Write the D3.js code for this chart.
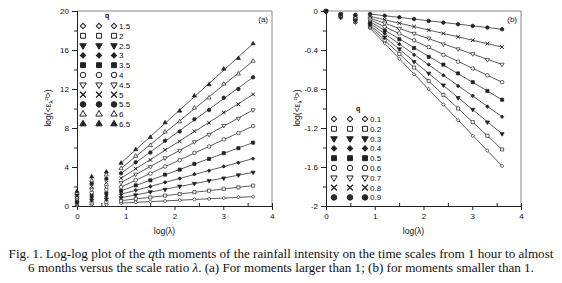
<!DOCTYPE html>
<html>
<head>
<meta charset="utf-8">
<script src="https://cdn.jsdelivr.net/npm/d3@7"></script>
<style>
  body { margin: 0; background: #fff; }
  svg { display: block; }
  text { font-family: "Liberation Sans", Arial, sans-serif; fill: #111; }
  .caption { font-family: "Liberation Serif", "Times New Roman", serif; font-size: 13.1px; }
</style>
</head>
<body>
<svg></svg>
<script>
const w = 562
const h = 283

const svg = d3.select('svg')
  .attr('width', w)
  .attr('height', h);

// log(lambda) for lambda = 1, 2, 4 ... 4096 hours
const logLambda = [0, 0.301, 0.602, 0.903, 1.204, 1.505, 1.806, 2.107, 2.408, 2.709, 3.010, 3.311, 3.612];

// (a) moments larger than 1
const qHigh = ['1.5', '2', '2.5', '3', '3.5', '4', '4.5', '5', '5.5', '6', '6.5'];
const momentsHigh = [
  [0.05, 0.15, 0.15, 0.30, 0.38, 0.44, 0.52, 0.60, 0.67, 0.73, 0.81, 0.90, 0.96],
  [0.15, 0.35, 0.40, 0.55, 0.74, 0.88, 1.07, 1.22, 1.42, 1.57, 1.76, 1.91, 2.09],
  [0.30, 0.60, 0.70, 0.85, 1.14, 1.45, 1.70, 2.02, 2.30, 2.60, 2.85, 3.18, 3.45],
  [0.45, 0.85, 1.00, 1.20, 1.62, 2.00, 2.44, 2.82, 3.25, 3.62, 4.06, 4.44, 4.86],
  [0.60, 1.10, 1.30, 1.55, 2.12, 2.63, 3.22, 3.73, 4.32, 4.83, 5.42, 5.93, 6.50],
  [0.75, 1.40, 1.70, 1.95, 2.66, 3.32, 4.05, 4.70, 5.45, 6.10, 6.84, 7.48, 8.20],
  [0.90, 1.70, 2.00, 2.40, 3.25, 4.03, 4.92, 5.68, 6.58, 7.33, 8.25, 8.98, 9.85],
  [1.00, 2.00, 2.40, 2.85, 3.84, 4.72, 5.76, 6.62, 7.68, 8.52, 9.60, 10.42, 11.45],
  [1.20, 2.30, 2.80, 3.35, 4.48, 5.48, 6.70, 7.65, 8.90, 9.84, 11.10, 12.00, 13.20],
  [1.35, 2.60, 3.20, 3.85, 5.12, 6.22, 7.60, 8.66, 10.06, 11.10, 12.52, 13.55, 14.87],
  [1.50, 3.00, 3.50, 4.40, 5.80, 7.05, 8.55, 9.75, 11.30, 12.45, 14.05, 15.15, 16.65]
];
// fitted lines, value at log(lambda) = 0.903 and 3.612
const fitHigh = [
  [0.30, 0.96], [0.55, 2.09], [0.85, 3.45], [1.20, 4.86], [1.55, 6.50], [1.95, 8.20],
  [2.40, 9.85], [2.85, 11.45], [3.35, 13.20], [3.85, 14.87], [4.40, 16.65]
];

// (b) moments smaller than 1
const qLow = ['0.1', '0.2', '0.3', '0.4', '0.5', '0.6', '0.7', '0.8', '0.9'];
const momentsLow = [
  [-0.005, -0.07, -0.12, -0.176, -0.33, -0.49, -0.65, -0.80, -0.96, -1.12, -1.28, -1.43, -1.59],
  [-0.005, -0.065, -0.11, -0.16, -0.30, -0.44, -0.58, -0.72, -0.86, -1.00, -1.14, -1.28, -1.42],
  [-0.005, -0.06, -0.10, -0.144, -0.27, -0.39, -0.52, -0.64, -0.76, -0.89, -1.01, -1.14, -1.26],
  [0, -0.055, -0.09, -0.126, -0.23, -0.34, -0.45, -0.55, -0.66, -0.77, -0.87, -0.98, -1.085],
  [0, -0.05, -0.08, -0.109, -0.20, -0.29, -0.38, -0.47, -0.55, -0.64, -0.73, -0.82, -0.91],
  [0, -0.045, -0.07, -0.09, -0.16, -0.23, -0.30, -0.37, -0.45, -0.52, -0.59, -0.66, -0.73],
  [0, -0.04, -0.06, -0.073, -0.126, -0.18, -0.23, -0.28, -0.34, -0.39, -0.44, -0.50, -0.548],
  [0, -0.035, -0.05, -0.055, -0.09, -0.125, -0.16, -0.195, -0.23, -0.265, -0.30, -0.335, -0.37],
  [0, -0.03, -0.04, -0.031, -0.048, -0.065, -0.082, -0.102, -0.119, -0.136, -0.153, -0.17, -0.187]
];
const fitLow = [
  [-0.176, -1.59], [-0.16, -1.42], [-0.144, -1.26], [-0.126, -1.085], [-0.109, -0.91],
  [-0.09, -0.73], [-0.073, -0.548], [-0.055, -0.37], [-0.031, -0.187]
];
const fitX = [0.903, 3.612];

const xTicks = [0, 1, 2, 3, 4];
const yTicksHigh = [0, 4, 8, 12, 16, 20];
const yTicksLow = [-2, -1.6, -1.2, -0.8, -0.4, 0];

// marker styles, same order for both panels (diamond = square turned 45deg)
const shapes = [
  { type: d3.symbolSquare, fill: false, rot: 45, k: 0.6 },
  { type: d3.symbolSquare, fill: false },
  { type: d3.symbolTriangle, fill: true, rot: 180, k: 0.75 },
  { type: d3.symbolSquare, fill: true, rot: 45, k: 0.6 },
  { type: d3.symbolSquare, fill: true },
  { type: d3.symbolCircle, fill: false },
  { type: d3.symbolTriangle, fill: false, rot: 180, k: 0.75 },
  { type: d3.symbolX, fill: false },
  { type: d3.symbolCircle, fill: true },
  { type: d3.symbolTriangle, fill: false, k: 0.75 },
  { type: d3.symbolTriangle, fill: true, k: 0.75 }
];
const ink = '#222';

const drawSymbol = (g, shape, x, y, size, sw) => {
  g.append('path')
    .attr('d', d3.symbol().type(shape.type).size(size * (shape.k || 1))())
    .attr('transform', `translate(${x},${y}) rotate(${shape.rot || 0})`)
    .attr('fill', shape.fill ? ink : '#fff')
    .attr('stroke', ink)
    .attr('stroke-width', shape.type === d3.symbolX ? sw + 0.3 : sw);
};

const drawPanel = cfg => {
  const x = d3.scaleLinear().domain([0, 4]).range([cfg.left, cfg.left + 195]);
  const y = d3.scaleLinear().domain(cfg.yDomain).range([206, 11]);
  const g = svg.append('g');

  // frame top / right
  g.append('path')
    .attr('d', `M${x(0)},${y.range()[1]}H${x(4)}V${y.range()[0]}`)
    .attr('fill', 'none').attr('stroke', '#888').attr('stroke-width', 1);

  // axes
  const xAxis = d3.axisBottom(x).tickValues(xTicks).tickSize(4).tickFormat(d3.format('d'));
  const xMinor = d3.axisBottom(x).tickValues(d3.range(0.5, 4, 1)).tickSize(-3).tickFormat('');
  const yAxis = d3.axisLeft(y).tickValues(cfg.yTicks).tickSize(5).tickFormat(d => String(+d.toFixed(1)));
  const step = cfg.yTicks[1] - cfg.yTicks[0];
  const yMinor = d3.axisLeft(y).tickValues(cfg.yTicks.slice(1).map(t => t - step / 2)).tickSize(3).tickFormat('');

  [[xAxis, 'x'], [xMinor, 'x'], [yAxis, 'y'], [yMinor, 'y']].forEach(([ax, k]) => {
    const a = g.append('g')
      .attr('transform', k === 'x' ? `translate(0,${y.range()[0]})` : `translate(${x(0)},0)`)
      .call(ax);
    a.selectAll('line, path').attr('stroke', ink);
    a.selectAll('text').attr('font-size', 8).attr('fill', ink);
  });

  // fitted lines
  const line = d3.line().x(d => x(d[0])).y(d => y(d[1]));
  cfg.fit.forEach(f => {
    g.append('path')
      .attr('d', line(fitX.map((xx, i) => [xx, f[i]])))
      .attr('stroke', '#333').attr('stroke-width', 0.8).attr('fill', 'none');
  });

  // points
  cfg.moments.forEach((vals, s) => {
    vals.forEach((v, i) => drawSymbol(g, shapes[s], x(logLambda[i]), y(v), 10, 0.7));
  });

  // legend
  g.append('text').attr('x', cfg.legend.x + 22).attr('y', cfg.legend.y - 8)
    .attr('font-size', 7).attr('font-weight', 'bold').text('q');
  cfg.q.forEach((q, s) => {
    const yy = cfg.legend.y + s * 9.8;
    [0, 16, 31].forEach(dx => drawSymbol(g, shapes[s], cfg.legend.x + dx, yy, 24, 1));
    g.append('text').attr('x', cfg.legend.x + 36).attr('y', yy + 3)
      .attr('font-size', 8).text(q);
  });

  // panel tag
  g.append('text').attr('x', x(4) - 4).attr('y', 22).attr('text-anchor', 'end')
    .attr('font-size', 8).text(cfg.tag);

  // axis titles
  g.append('text').attr('x', (x(0) + x(4)) / 2 - 10).attr('y', 234)
    .attr('text-anchor', 'middle').attr('font-size', 8.5)
    .text('log(λ)');
  const yl = g.append('text')
    .attr('transform', `translate(${cfg.left - 26},${108}) rotate(-90)`)
    .attr('text-anchor', 'middle').attr('font-size', 8.5);
  yl.append('tspan').text('log(<ε');
  yl.append('tspan').attr('font-size', 6).attr('dy', 2).text('λ');
  yl.append('tspan').attr('font-size', 6).attr('dy', -5).text('q');
  yl.append('tspan').attr('dy', 3).text('>)');
};

drawPanel({
  left: 77, yDomain: [0, 20], yTicks: yTicksHigh, q: qHigh,
  moments: momentsHigh, fit: fitHigh, tag: '(a)', legend: { x: 83, y: 26 }
});
drawPanel({
  left: 326, yDomain: [-2, 0], yTicks: yTicksLow, q: qLow,
  moments: momentsLow, fit: fitLow, tag: '(b)', legend: { x: 334, y: 119 }
});

// caption
const cap = svg.append('text').attr('class', 'caption').attr('text-anchor', 'middle');
const l1 = cap.append('tspan').attr('x', w / 2).attr('y', 258);
l1.append('tspan').text('Fig. 1. Log-log plot of the ');
l1.append('tspan').attr('font-style', 'italic').text('q');
l1.append('tspan').text('th moments of the rainfall intensity on the time scales from 1 hour to almost');
const l2 = cap.append('tspan').attr('x', w / 2).attr('y', 272);
l2.append('tspan').text('6 months versus the scale ratio ');
l2.append('tspan').attr('font-style', 'italic').text('λ');
l2.append('tspan').text('. (a) For moments larger than 1; (b) for moments smaller than 1.');
</script>
</body>
</html>
